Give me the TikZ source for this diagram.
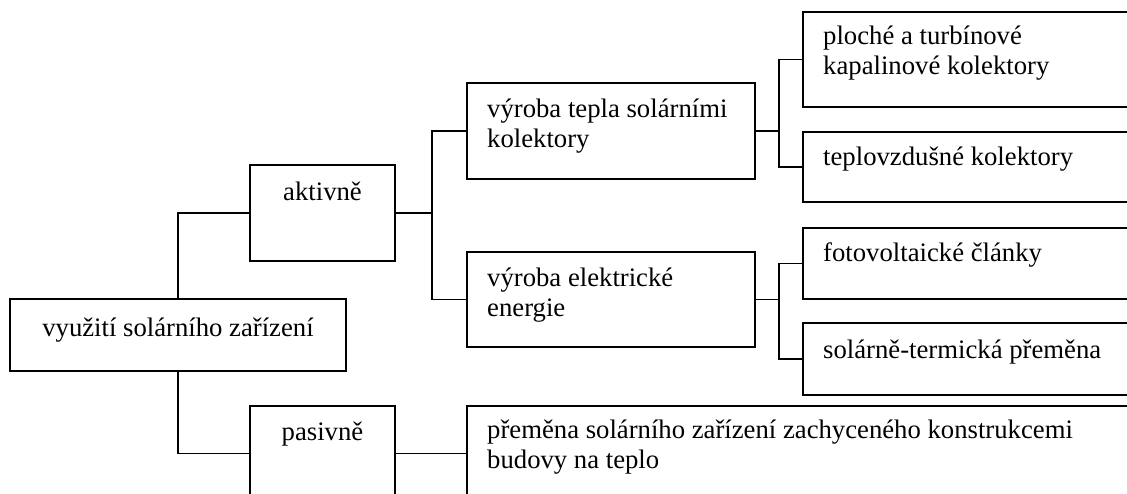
\documentclass[tikz,border=0pt]{standalone}
\usepackage{fontspec}
\setmainfont{Liberation Serif}
\usetikzlibrary{calc}

% two lines of text whose baseline is the baseline of the first line
\newcommand{\twolines}[2]{\vtop{\hbox{#1}\hbox{#2}}}

\begin{document}
\begin{tikzpicture}[
    x=1pt, y=-1pt,
    box/.style={draw=black, line width=1.6pt, rectangle, inner sep=0pt, minimum width=#1},
    box/.default=145pt,
    txt/.style={inner sep=0pt, font=\fontsize{26.7}{30}\selectfont},
    link/.style={draw=black, line width=1.6pt}
  ]
  \useasboundingbox (0,0) rectangle (1127,494);
  \clip (0,0) rectangle (1127,494);

  % boxes
  \node[box=336pt, minimum height=72pt] (root) at (178,335) {};
  \node[box=145pt, minimum height=96pt] (akt) at (322.5,213) {};
  \node[box=145pt, minimum height=95pt] (pas) at (322.5,453.5) {};
  \node[box=288pt, minimum height=96pt] (vt) at (611,131) {};
  \node[box=288pt, minimum height=95pt] (ve) at (611,299.5) {};
  \node[box=337pt, minimum height=95pt] (pl) at (971.5,59.5) {};
  \node[box=337pt, minimum height=70pt] (tv) at (971.5,167) {};
  \node[box=337pt, minimum height=71pt] (fv) at (971.5,263.5) {};
  \node[box=337pt, minimum height=72pt] (st) at (971.5,359) {};
  \node[box=673pt, minimum height=95pt] (pr) at (803.5,453.5) {};

  % texts
  \node[txt, anchor=base] (troot) at (178,336) {využití solárního zařízení};
  \node[txt, anchor=base] (takt) at (322.5,201) {aktivně};
  \node[txt, anchor=base] (tpas) at (322.5,440) {pasivně};
  \node[txt, anchor=base west] (tvt) at (487,118) {\twolines{výroba tepla solárními}{kolektory}};
  \node[txt, anchor=base west] (tve) at (487,287) {\twolines{výroba elektrické}{energie}};
  \node[txt, anchor=base west] (tpl) at (823,45) {\twolines{ploché a turbínové}{kapalinové kolektory}};
  \node[txt, anchor=base west] (ttv) at (823,166) {teplovzdušné kolektory};
  \node[txt, anchor=base west] (tfv) at (823,262) {fotovoltaické články};
  \node[txt, anchor=base west] (tst) at (823,358) {solárně-termická přeměna};
  \node[txt, anchor=base west] (tpr) at (487,438) {\twolines{přeměna solárního zařízení zachyceného konstrukcemi}{budovy na teplo}};

  % connectors
  \coordinate (j1) at ($(akt.east)+(36,0)$);
  \coordinate (j2) at ($(vt.east)+(23,0)$);
  \coordinate (j3) at ($(ve.east)+(23,0)$);

  \draw[link] (root.north) |- (akt.west);
  \draw[link] (root.south) |- (pas.west);
  \draw[link] (akt.east) -- (j1);
  \draw[link] (j1) |- (vt.west);
  \draw[link] (j1) |- (ve.west);
  \draw[link] (vt.east) -- (j2);
  \draw[link] (j2) |- (pl.west);
  \draw[link] (j2) |- (tv.west);
  \draw[link] (ve.east) -- (j3);
  \draw[link] (j3) |- (fv.west);
  \draw[link] (j3) |- (st.west);
  \draw[link] (pas.east) -- (pr.west);
\end{tikzpicture}
\end{document}
